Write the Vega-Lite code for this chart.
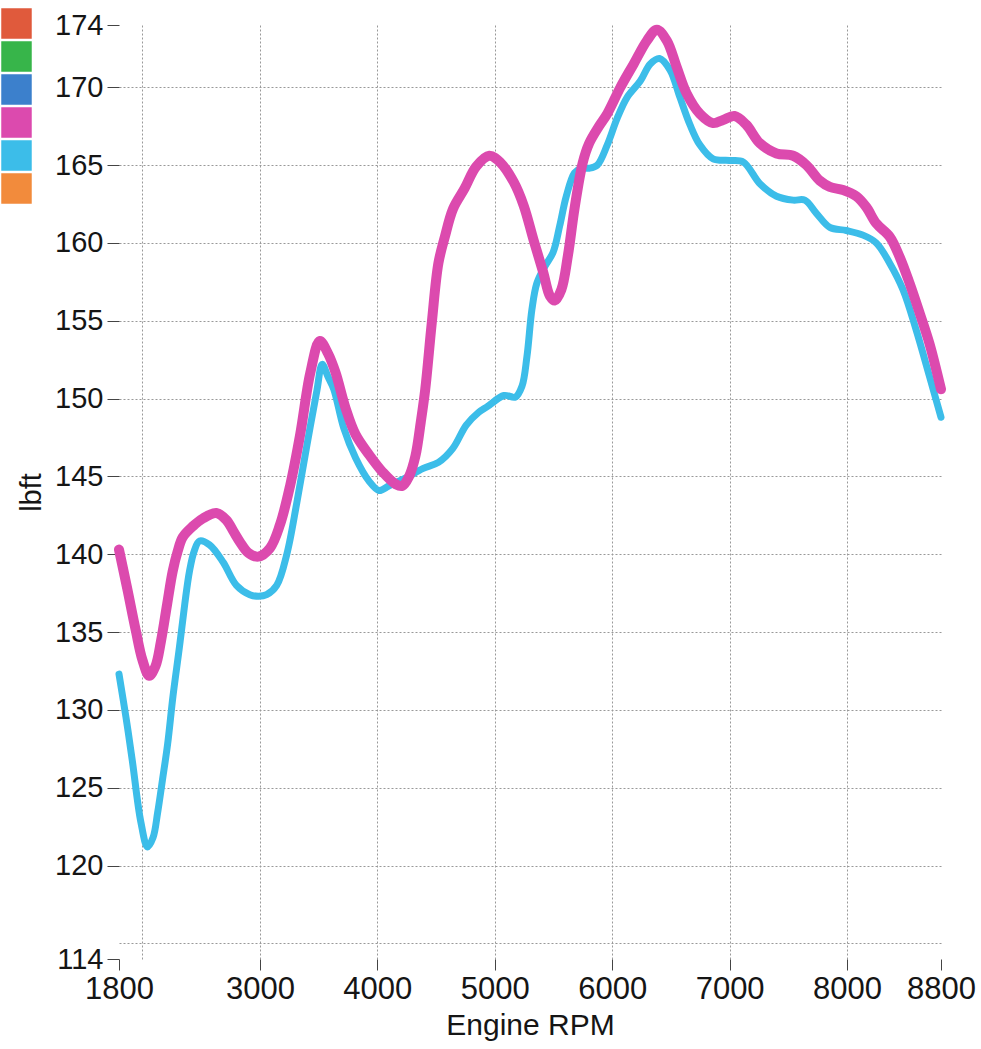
{
  "$schema": "https://vega.github.io/schema/vega-lite/v6.json",
  "autosize": {"type": "none"},
  "width": 822,
  "height": 934,
  "padding": {"left": 119, "top": 25, "right": 40, "bottom": 90},
  "background": "white",
  "config": {
    "font": "Liberation Sans",
    "view": {"stroke": null}
  },
  "datasets": {
    "curves": [
      {"run": "5", "rpm": 1800, "lbft": 132.3},
      {"run": "5", "rpm": 1860, "lbft": 129.5},
      {"run": "5", "rpm": 1914, "lbft": 126.7},
      {"run": "5", "rpm": 1986, "lbft": 122.8},
      {"run": "5", "rpm": 2043, "lbft": 121.2},
      {"run": "5", "rpm": 2090, "lbft": 121.8},
      {"run": "5", "rpm": 2129, "lbft": 123.4},
      {"run": "5", "rpm": 2170, "lbft": 125.5},
      {"run": "5", "rpm": 2214, "lbft": 127.8},
      {"run": "5", "rpm": 2260, "lbft": 130.9},
      {"run": "5", "rpm": 2314, "lbft": 134.0},
      {"run": "5", "rpm": 2360, "lbft": 136.8},
      {"run": "5", "rpm": 2400, "lbft": 138.9},
      {"run": "5", "rpm": 2440, "lbft": 140.2},
      {"run": "5", "rpm": 2486, "lbft": 140.85},
      {"run": "5", "rpm": 2571, "lbft": 140.6},
      {"run": "5", "rpm": 2686, "lbft": 139.5},
      {"run": "5", "rpm": 2800, "lbft": 138.0},
      {"run": "5", "rpm": 2914, "lbft": 137.4},
      {"run": "5", "rpm": 2990, "lbft": 137.3},
      {"run": "5", "rpm": 3057, "lbft": 137.4},
      {"run": "5", "rpm": 3143, "lbft": 138.0},
      {"run": "5", "rpm": 3229, "lbft": 140.0},
      {"run": "5", "rpm": 3314, "lbft": 143.3},
      {"run": "5", "rpm": 3400, "lbft": 147.0},
      {"run": "5", "rpm": 3486, "lbft": 150.55},
      {"run": "5", "rpm": 3530, "lbft": 152.2},
      {"run": "5", "rpm": 3580, "lbft": 151.4},
      {"run": "5", "rpm": 3629, "lbft": 150.6},
      {"run": "5", "rpm": 3714, "lbft": 148.1},
      {"run": "5", "rpm": 3814, "lbft": 146.2},
      {"run": "5", "rpm": 3929, "lbft": 144.7},
      {"run": "5", "rpm": 4014, "lbft": 144.1},
      {"run": "5", "rpm": 4100, "lbft": 144.4},
      {"run": "5", "rpm": 4243, "lbft": 144.9},
      {"run": "5", "rpm": 4386, "lbft": 145.5},
      {"run": "5", "rpm": 4520, "lbft": 145.9},
      {"run": "5", "rpm": 4643, "lbft": 146.8},
      {"run": "5", "rpm": 4757, "lbft": 148.3},
      {"run": "5", "rpm": 4860, "lbft": 149.1},
      {"run": "5", "rpm": 4939, "lbft": 149.5},
      {"run": "5", "rpm": 5078, "lbft": 150.2},
      {"run": "5", "rpm": 5176, "lbft": 150.1},
      {"run": "5", "rpm": 5232, "lbft": 150.8},
      {"run": "5", "rpm": 5274, "lbft": 152.7},
      {"run": "5", "rpm": 5316, "lbft": 155.7},
      {"run": "5", "rpm": 5358, "lbft": 157.4},
      {"run": "5", "rpm": 5427, "lbft": 158.5},
      {"run": "5", "rpm": 5497, "lbft": 159.4},
      {"run": "5", "rpm": 5553, "lbft": 161.1},
      {"run": "5", "rpm": 5609, "lbft": 163.0},
      {"run": "5", "rpm": 5679, "lbft": 164.5},
      {"run": "5", "rpm": 5735, "lbft": 164.8},
      {"run": "5", "rpm": 5804, "lbft": 164.8},
      {"run": "5", "rpm": 5873, "lbft": 165.0},
      {"run": "5", "rpm": 5958, "lbft": 166.3},
      {"run": "5", "rpm": 6042, "lbft": 168.0},
      {"run": "5", "rpm": 6127, "lbft": 169.35},
      {"run": "5", "rpm": 6239, "lbft": 170.4},
      {"run": "5", "rpm": 6324, "lbft": 171.5},
      {"run": "5", "rpm": 6403, "lbft": 171.85},
      {"run": "5", "rpm": 6493, "lbft": 171.1},
      {"run": "5", "rpm": 6577, "lbft": 169.35},
      {"run": "5", "rpm": 6662, "lbft": 167.6},
      {"run": "5", "rpm": 6746, "lbft": 166.3},
      {"run": "5", "rpm": 6859, "lbft": 165.4},
      {"run": "5", "rpm": 7000, "lbft": 165.3},
      {"run": "5", "rpm": 7116, "lbft": 165.2},
      {"run": "5", "rpm": 7258, "lbft": 163.8},
      {"run": "5", "rpm": 7399, "lbft": 163.0},
      {"run": "5", "rpm": 7541, "lbft": 162.75},
      {"run": "5", "rpm": 7640, "lbft": 162.75},
      {"run": "5", "rpm": 7739, "lbft": 161.9},
      {"run": "5", "rpm": 7853, "lbft": 161.0},
      {"run": "5", "rpm": 7994, "lbft": 160.8},
      {"run": "5", "rpm": 8136, "lbft": 160.5},
      {"run": "5", "rpm": 8249, "lbft": 160.0},
      {"run": "5", "rpm": 8363, "lbft": 158.7},
      {"run": "5", "rpm": 8476, "lbft": 157.0},
      {"run": "5", "rpm": 8589, "lbft": 154.4},
      {"run": "5", "rpm": 8703, "lbft": 151.4},
      {"run": "5", "rpm": 8800, "lbft": 148.8},
      {"run": "4", "rpm": 1800, "lbft": 140.3},
      {"run": "4", "rpm": 1870, "lbft": 137.8},
      {"run": "4", "rpm": 1943, "lbft": 135.1},
      {"run": "4", "rpm": 2000, "lbft": 133.2},
      {"run": "4", "rpm": 2057, "lbft": 132.2},
      {"run": "4", "rpm": 2110, "lbft": 132.8},
      {"run": "4", "rpm": 2157, "lbft": 134.4},
      {"run": "4", "rpm": 2210, "lbft": 136.8},
      {"run": "4", "rpm": 2257, "lbft": 138.9},
      {"run": "4", "rpm": 2300, "lbft": 140.2},
      {"run": "4", "rpm": 2343, "lbft": 141.1},
      {"run": "4", "rpm": 2429, "lbft": 141.8},
      {"run": "4", "rpm": 2514, "lbft": 142.3},
      {"run": "4", "rpm": 2629, "lbft": 142.65},
      {"run": "4", "rpm": 2714, "lbft": 142.2},
      {"run": "4", "rpm": 2780, "lbft": 141.4},
      {"run": "4", "rpm": 2829, "lbft": 140.8},
      {"run": "4", "rpm": 2900, "lbft": 140.1},
      {"run": "4", "rpm": 2986, "lbft": 139.85},
      {"run": "4", "rpm": 3086, "lbft": 140.4},
      {"run": "4", "rpm": 3171, "lbft": 141.9},
      {"run": "4", "rpm": 3257, "lbft": 144.4},
      {"run": "4", "rpm": 3343, "lbft": 147.7},
      {"run": "4", "rpm": 3429, "lbft": 151.65},
      {"run": "4", "rpm": 3510, "lbft": 153.7},
      {"run": "4", "rpm": 3580, "lbft": 152.9},
      {"run": "4", "rpm": 3643, "lbft": 151.7},
      {"run": "4", "rpm": 3729, "lbft": 149.4},
      {"run": "4", "rpm": 3814, "lbft": 147.7},
      {"run": "4", "rpm": 3929, "lbft": 146.4},
      {"run": "4", "rpm": 4043, "lbft": 145.3},
      {"run": "4", "rpm": 4157, "lbft": 144.5},
      {"run": "4", "rpm": 4214, "lbft": 144.4},
      {"run": "4", "rpm": 4270, "lbft": 145.0},
      {"run": "4", "rpm": 4324, "lbft": 146.3},
      {"run": "4", "rpm": 4370, "lbft": 148.5},
      {"run": "4", "rpm": 4408, "lbft": 150.6},
      {"run": "4", "rpm": 4464, "lbft": 154.9},
      {"run": "4", "rpm": 4520, "lbft": 158.7},
      {"run": "4", "rpm": 4575, "lbft": 160.4},
      {"run": "4", "rpm": 4645, "lbft": 162.2},
      {"run": "4", "rpm": 4743, "lbft": 163.5},
      {"run": "4", "rpm": 4841, "lbft": 164.9},
      {"run": "4", "rpm": 4953, "lbft": 165.6},
      {"run": "4", "rpm": 5050, "lbft": 165.15},
      {"run": "4", "rpm": 5162, "lbft": 163.9},
      {"run": "4", "rpm": 5246, "lbft": 162.4},
      {"run": "4", "rpm": 5330, "lbft": 160.2},
      {"run": "4", "rpm": 5413, "lbft": 158.1},
      {"run": "4", "rpm": 5469, "lbft": 156.6},
      {"run": "4", "rpm": 5511, "lbft": 156.3},
      {"run": "4", "rpm": 5567, "lbft": 157.0},
      {"run": "4", "rpm": 5623, "lbft": 159.2},
      {"run": "4", "rpm": 5679, "lbft": 162.2},
      {"run": "4", "rpm": 5749, "lbft": 165.15},
      {"run": "4", "rpm": 5804, "lbft": 166.4},
      {"run": "4", "rpm": 5888, "lbft": 167.5},
      {"run": "4", "rpm": 5958, "lbft": 168.3},
      {"run": "4", "rpm": 6070, "lbft": 170.0},
      {"run": "4", "rpm": 6183, "lbft": 171.5},
      {"run": "4", "rpm": 6296, "lbft": 173.0},
      {"run": "4", "rpm": 6380, "lbft": 173.7},
      {"run": "4", "rpm": 6465, "lbft": 173.0},
      {"run": "4", "rpm": 6549, "lbft": 171.3},
      {"run": "4", "rpm": 6634, "lbft": 169.6},
      {"run": "4", "rpm": 6746, "lbft": 168.3},
      {"run": "4", "rpm": 6859, "lbft": 167.7},
      {"run": "4", "rpm": 6944, "lbft": 167.9},
      {"run": "4", "rpm": 7042, "lbft": 168.15},
      {"run": "4", "rpm": 7141, "lbft": 167.6},
      {"run": "4", "rpm": 7258, "lbft": 166.4},
      {"run": "4", "rpm": 7399, "lbft": 165.75},
      {"run": "4", "rpm": 7541, "lbft": 165.6},
      {"run": "4", "rpm": 7654, "lbft": 165.0},
      {"run": "4", "rpm": 7768, "lbft": 164.0},
      {"run": "4", "rpm": 7853, "lbft": 163.6},
      {"run": "4", "rpm": 7966, "lbft": 163.4},
      {"run": "4", "rpm": 8079, "lbft": 163.0},
      {"run": "4", "rpm": 8164, "lbft": 162.3},
      {"run": "4", "rpm": 8249, "lbft": 161.25},
      {"run": "4", "rpm": 8363, "lbft": 160.4},
      {"run": "4", "rpm": 8448, "lbft": 159.1},
      {"run": "4", "rpm": 8533, "lbft": 157.4},
      {"run": "4", "rpm": 8618, "lbft": 155.5},
      {"run": "4", "rpm": 8703, "lbft": 153.5},
      {"run": "4", "rpm": 8800, "lbft": 150.6}
    ]
  },
  "data": {"name": "curves"},
  "mark": {"type": "line", "interpolate": "catmull-rom", "strokeCap": "round", "strokeJoin": "round"},
  "encoding": {
    "x": {
      "field": "rpm",
      "type": "quantitative",
      "scale": {"domain": [1800, 8800], "nice": false, "zero": false},
      "axis": {
        "title": "Engine RPM",
        "titleFontSize": 30,
        "titleFontWeight": "normal",
        "titleColor": "#151515",
        "titlePadding": 6,
        "values": [1800, 2000, 3000, 4000, 5000, 6000, 7000, 8000, 8800],
        "format": "d",
        "labelExpr": "datum.value == 2000 ? '' : datum.label",
        "labelFontSize": 31,
        "labelColor": "#151515",
        "labelPadding": 4,
        "labelFlush": false,
        "labelOverlap": false,
        "domain": false,
        "ticks": true,
        "tickSize": 11,
        "tickColor": "#444",
        "tickOpacity": {"condition": {"test": "datum.value == 2000", "value": 0}, "value": 1},
        "grid": true,
        "gridColor": "#999999",
        "gridDash": [2, 2],
        "gridWidth": 1,
        "gridOpacity": {"condition": {"test": "datum.value == 1800 || datum.value == 8800", "value": 0}, "value": 1}
      }
    },
    "y": {
      "field": "lbft",
      "type": "quantitative",
      "scale": {"domain": [114, 174], "nice": false, "zero": false},
      "axis": {
        "title": "lbft",
        "titleFontSize": 29,
        "titleFontWeight": "normal",
        "titleColor": "#151515",
        "titlePadding": 8,
        "values": [114, 115, 120, 125, 130, 135, 140, 145, 150, 155, 160, 165, 170, 174],
        "labelExpr": "datum.value == 115 ? '' : datum.label",
        "labelFontSize": 29,
        "labelColor": "#151515",
        "labelPadding": 4,
        "labelFlush": false,
        "labelOverlap": false,
        "domain": false,
        "tickSize": 12,
        "tickColor": "#444",
        "tickOpacity": {"condition": {"test": "datum.value == 115", "value": 0}, "value": 1},
        "grid": true,
        "gridColor": "#999999",
        "gridDash": [2, 2],
        "gridWidth": 1,
        "gridOpacity": {"condition": {"test": "datum.value == 114 || datum.value == 174", "value": 0}, "value": 1}
      }
    },
    "color": {
      "field": "run",
      "type": "nominal",
      "sort": null,
      "scale": {
        "domain": ["1", "2", "3", "4", "5", "6"],
        "range": ["#e05a3c", "#37b54a", "#3c80cc", "#dc4aae", "#3cbde9", "#f28b3c"]
      },
      "legend": {
        "orient": "none",
        "legendX": -118,
        "legendY": -17,
        "title": null,
        "padding": 0,
        "symbolType": "square",
        "symbolSize": 840,
        "symbolStrokeColor": "#444444",
        "symbolStrokeWidth": 1.5,
        "rowPadding": -3.5,
        "labelExpr": "''",
        "labelFontSize": 1,
        "labelOffset": 0,
        "encode": {
          "symbols": {
            "update": {
              "fill": {"scale": "color", "field": "value"},
              "stroke": {"value": "#444444"},
              "strokeWidth": {"value": 1.5},
              "opacity": {"value": 1}
            }
          }
        }
      }
    },
    "strokeWidth": {
      "field": "run",
      "type": "nominal",
      "scale": {"domain": ["4", "5"], "range": [10, 7]},
      "legend": null
    }
  }
}
